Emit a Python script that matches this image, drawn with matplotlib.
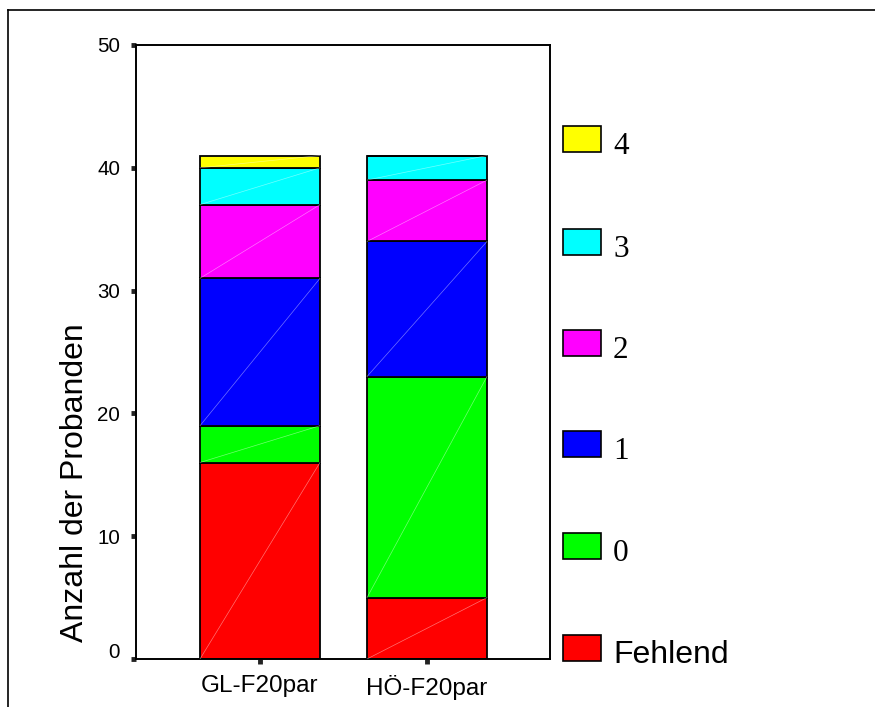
import matplotlib
matplotlib.use("Agg")
import matplotlib.pyplot as plt
from matplotlib.patches import Rectangle
from matplotlib.lines import Line2D
from matplotlib.transforms import ScaledTranslation
import numpy as np

categories = ["GL-F20par", "HÖ-F20par"]
series_labels = ["Fehlend", "0", "1", "2", "3", "4"]
series_colors = ["#FF0000", "#00FF00", "#0000FF", "#FF00FF", "#00FFFF", "#FFFF00"]
values = {
    "Fehlend": [16, 5],
    "0": [3, 18],
    "1": [12, 11],
    "2": [6, 5],
    "3": [3, 2],
    "4": [1, 0],
}
y_ticks = [0, 10, 20, 30, 40, 50]
y_label = "Anzahl der Probanden"

W, H = 875, 707
fig = plt.figure(figsize=(W / 100, H / 100), dpi=100)
ax = fig.add_axes([136 / W, 1 - 659 / H, (550 - 136) / W, (659 - 45) / H])

x = np.arange(len(categories))
bw = 0.7186
bottom = np.zeros(len(categories))
for lab, col in zip(series_labels, series_colors):
    v = np.array(values[lab], dtype=float)
    ax.bar(x, v, bw, bottom=bottom, color=col, edgecolor="black", linewidth=1.3, zorder=2)
    for xi, b, h in zip(x, bottom, v):
        if h > 0:
            ax.plot([xi - bw / 2, xi + bw / 2], [b, b + h], color="white", lw=0.5, alpha=0.45, zorder=3)
    bottom += v

ax.set_xlim(-0.7425, 1.7365)
ax.set_ylim(0, 50)
ax.set_yticks(y_ticks)
ax.set_yticklabels([str(t) for t in y_ticks], fontsize=14.8, fontfamily="Liberation Sans")
ax.set_xticks(x)
ax.set_xticklabels(categories, fontsize=17.5, fontfamily="Liberation Sans")
ax.tick_params(axis="both", direction="out", length=3.5, width=3.5, color="#222222")
ax.tick_params(axis="y", pad=8)
ax.tick_params(axis="x", pad=8)
for s in ax.spines.values():
    s.set_linewidth(1.4)
# the zero label sits a little above its tick in the reference
zero_lab = ax.get_yticklabels()[0]
zero_lab.set_transform(zero_lab.get_transform() + ScaledTranslation(0, 9 / 100, fig.dpi_scale_trans))

ax.set_ylabel(y_label, fontsize=23, fontfamily="Liberation Sans")
ax.yaxis.set_label_coords(-0.112, 0.287)

# outer frame (top and left lines)
fig.add_artist(Line2D([8 / W, 1.0], [1 - 10 / H, 1 - 10 / H], color="black", lw=1.2, transform=fig.transFigure))
fig.add_artist(Line2D([8 / W, 8 / W], [0.0, 1 - 10 / H], color="black", lw=1.2, transform=fig.transFigure))

# legend (top to bottom: 4 ... Fehlend)
centers = [139, 242, 343, 444, 546, 648]
for lab, col, cy in zip(series_labels[::-1], series_colors[::-1], centers):
    ph = 26
    fig.add_artist(Rectangle((563 / W, 1 - (cy + ph / 2) / H), 38 / W, ph / H,
                             facecolor=col, edgecolor="black", lw=1.2, transform=fig.transFigure))
    fam = "Liberation Sans" if lab == "Fehlend" else "Liberation Serif"
    fs = 23 if lab == "Fehlend" else 22.5
    fig.text(613 / W, 1 - (cy + ph / 2 + 2) / H, lab, fontsize=fs, fontfamily=fam,
             ha="left", va="baseline")

fig.savefig("out.png", dpi=100)
